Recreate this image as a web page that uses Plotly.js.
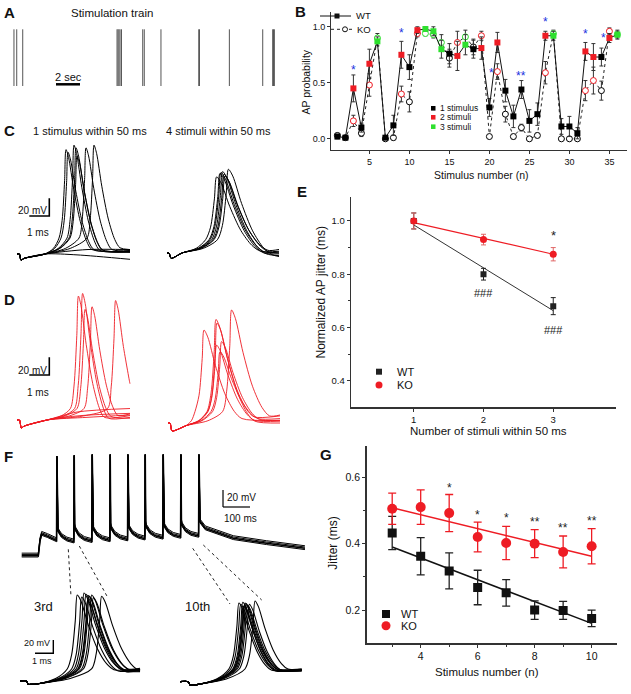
<!DOCTYPE html>
<html><head><meta charset="utf-8">
<script src="https://cdn.plot.ly/plotly-3.0.1.min.js"></script>
<style>html,body{margin:0;padding:0;background:#fff}#chart{width:631px;height:694px}</style>
</head><body><div id="chart"></div>
<script>
// ---------------- DATA ----------------
// Panel A: stimulation train times (s)
const stimTimes = [0.33,0.56,1.06,8.92,9.0,9.08,9.17,9.29,11.06,11.19,12.58,15.73,15.79,18.28,21.06,21.89,21.96,22.03];
// Panel B: AP probability per stimulus number
const stimN = [1,2,3,4,5,6,7,8,9,10,11,12,13,14,15,16,17,18,19,20,21,22,23,24,25,26,27,28,29,30,31,32,33,34,35,36];
const stimGroup = [1,1,2,1,2,3,1,1,2,1,2,3,3,3,1,2,3,1,2,1,2,1,1,1,1,1,2,3,1,1,1,2,2,1,2,3];
const wtProb = [0.02,0.01,0.45,0.10,0.67,0.87,0.01,0.12,0.75,0.64,0.97,0.98,0.96,0.80,0.76,0.74,0.84,0.80,0.81,0.28,0.86,0.43,0.20,0.44,0.16,0.22,0.92,0.92,0.11,0.11,0.05,0.78,0.73,0.73,0.90,0.93];
const wtProbErr = [0.02,0.01,0.12,0.04,0.13,0.04,0.01,0.09,0.12,0.11,0.03,0.02,0.04,0.08,0.09,0.13,0.09,0.08,0.10,0.08,0.09,0.10,0.10,0.08,0.10,0.10,0.04,0.04,0.07,0.09,0.05,0.08,0.12,0.08,0.04,0.04];
const koProb = [0.03,0.01,0.16,0.05,0.48,0.90,0.00,0.01,0.40,0.33,0.94,0.94,0.93,0.86,0.72,0.86,0.91,0.82,0.92,0.02,0.60,0.22,0.02,0.10,0.00,0.03,0.59,0.94,0.00,0.00,0.00,0.43,0.52,0.43,0.96,0.93];
const koProbErr = [0.02,0.01,0.05,0.03,0.10,0.04,0.01,0.02,0.07,0.09,0.03,0.02,0.03,0.07,0.08,0.10,0.06,0.07,0.04,0.01,0.07,0.07,0.02,0.03,0.01,0.02,0.10,0.03,0.01,0.01,0.01,0.09,0.12,0.085,0.03,0.03];
const starsB_x = [3,9,20.3,23.9,27,32,34.2];
const starsB_y = [0.64,0.97,0.61,0.59,1.07,0.96,0.93];
const starsB_t = ['*','*','*','**','*','*','*'];
const stimLegend = ['1 stimulus','2 stimuli','3 stimuli'];
// Panel E
const eX = [1,2,3];
const eWT = [1.0,0.80,0.68], eWTerr = [0.03,0.022,0.032];
const eKO = [1.0,0.93,0.875], eKOerr = [0.03,0.02,0.025];
const eFitX = [1,3], eWTfit = [0.985,0.663], eKOfit = [0.994,0.875];
const eMarks_x = [3,2,3], eMarks_y = [0.955,0.731,0.59], eMarks_t = ['*','###','###'];
// Panel G
const gX = [3,4,5,6,7,8,9,10];
const gWT = [0.432,0.362,0.318,0.268,0.252,0.200,0.199,0.175];
const gWTerr = [0.050,0.056,0.054,0.052,0.040,0.028,0.027,0.025];
const gKO = [0.505,0.510,0.492,0.420,0.402,0.400,0.375,0.392];
const gKOerr = [0.047,0.052,0.056,0.045,0.050,0.042,0.048,0.053];
const gFitX = [3,10], gWTfit = [0.39,0.16], gKOfit = [0.508,0.362];
const starsG_x = [5,6,7,8,9,10], starsG_y = [0.578,0.495,0.485,0.473,0.455,0.477], starsG_t = ['*','*','*','**','**','**'];
// Waveforms (ms, mV). AP rows: [peak time, peak V, after V, end V]
const RISE_T=[0,0.45,0.8,1], RISE_V=[0,0.2,0.65,1];
const FALL_T=[0,0.1,0.3,0.55,0.8,1], FALL_V=[1,0.92,0.6,0.28,0.08,0];
const cLeftPreT=[0,0.12,0.2,0.35,1.4], cLeftPreV=[-65,-65,-72,-70,-65];
const cLeftAP=[[2.45,53,-60,-62],[2.55,50,-60,-63],[2.85,58,-61,-62],[2.95,55,-60,-63],[3.0,46,-61,-62],[3.45,55,-60,-61],[3.85,58,-58,-60]];
const cLeftFlat=[[3.5,-60,5.65,-60],[3.0,-66,5.65,-71]];
const cRightPreT=[0,0.1,0.2,0.35,0.75], cRightPreV=[-65,-65,-71,-70,-65];
const cRightAP=[[2.48,21,-63,-63],[2.65,25,-65,-66],[2.78,27,-66,-68],[2.85,24,-62,-61],[2.9,22,-64,-65],[3.07,29.6,-67,-69],[2.7,26,-64,-64]];
const dLeftPreT=[0,0.12,0.22,0.35,1.5], dLeftPreV=[-65,-65,-74,-72,-65];
const dLeftAP=[[3.07,75,-62,-60],[3.28,78,-63,-62],[3.4,60,-61,-63],[3.75,63,-60,-58],[4.93,70,-60,-60]];
const dLeftFlat=[[3.0,-56,5.65,-52],[3.2,-60,5.65,-57.5],[3.5,-62,5.65,-59.3]];
const dRightPreT=[0,0.1,0.2,0.4,0.9], dRightPreV=[-65,-65,-74,-73,-68];
const dRightAP=[[1.8,40,-60,-62],[2.4,52,-58,-57],[2.43,23,-62,-63],[2.6,15.6,-60,-60],[2.68,27,-61,-62],[3.18,62.7,-57,-56],[2.45,48,-63,-65]];
const f3PreT=[0,0.35,0.45,0.6,1.0], f3PreV=[-65,-65,-70,-70,-69];
const f3AP=[[3.13,64,-48,-47],[3.37,61,-50,-49],[3.5,67,-47,-48],[3.61,65,-49,-48],[3.7,56,-48,-50],[3.79,62,-51,-49],[3.92,64,-47,-46],[4.01,60,-49,-48],[4.46,62,-48,-47],[3.74,63,-50,-51]];
const f10PreT=[0,0.45,0.55,0.7,1.0], f10PreV=[-66,-66,-71,-71,-70];
const f10AP=[[3.22,52,-49,-48],[3.32,50,-48,-49],[3.43,53,-50,-48],[3.51,48,-47,-47],[3.61,51,-49,-50],[3.68,49,-48,-48],[3.79,50,-50,-49],[4.1,55,-47,-48],[3.47,47,-49,-47],[3.55,52,-48,-50]];
// F top train
const fTopPreT=[0,61.5,67.8,74,95,123], fTopPreV=[-65,-65,-47,-39.5,-42,-46.5];
const fSpikeT=[129.6,193.7,260.4,327,392.6,456.7,523.3,589,655.7];
const fSpikePk=[52,53,54,54,54,54,54,54,54];
const fPreV=[-47,-48.5,-48,-47,-46,-45,-44,-43,-41.8];
const fPostV=[-35.6,-34,-33.5,-33,-32,-31,-30,-29,-25];
const fTailT=[680,783.7,907,1049], fTailV=[-33,-44.5,-50.4,-56.3];
const fTopOffsets=[0,-1.5,1.5,3];

// ---------------- HELPERS ----------------
const W=631,H=694;
const px=x=>x/W, py=y=>1-y/H;
const FONT='"Liberation Sans", Arial, Helvetica, sans-serif';
const RED='#ee1c24', GREEN='#2ee02e', BLUE='#2030e0';
const stimColors=['#000000',RED,GREEN];
const layout={width:W,height:H,margin:{l:0,r:0,t:0,b:0},paper_bgcolor:'#ffffff',plot_bgcolor:'rgba(0,0,0,0)',
  showlegend:false,font:{family:FONT,color:'#111',size:10},annotations:[],shapes:[]};
const data=[];
const ak=n=>n===1?'':String(n);
function hiddenAxes(n,xL,xR,xr,yT,yB,yr){
  layout['xaxis'+ak(n)]={domain:[px(xL),px(xR)],range:xr,visible:false,fixedrange:true,anchor:'y'+ak(n)};
  layout['yaxis'+ak(n)]={domain:[py(yB),py(yT)],range:yr,visible:false,fixedrange:true,anchor:'x'+ak(n)};
}
function traceAxes(n,xL,xR,t0px,pxMs,yT,yB,vRefPx,pxMv){
  hiddenAxes(n,xL,xR,[(xL-t0px)/pxMs,(xR-t0px)/pxMs],yT,yB,[-65-(yB-vRefPx)/pxMv,-65+(vRefPx-yT)/pxMv]);
}
function clip(t,v,tEnd){
  const T=[],V=[];
  for(let i=0;i<t.length;i++){
    if(t[i]<=tEnd){T.push(t[i]);V.push(v[i]);}
    else{const f=(tEnd-t[i-1])/(t[i]-t[i-1]);T.push(tEnd);V.push(v[i-1]+f*(v[i]-v[i-1]));break;}
  }
  return [T,V];
}
function apKnots(preT,preV,row,R,D,vTh,tEnd){
  const [tPk,vPk,vAft,vEnd]=row;
  const t=[...preT],v=[...preV];
  const t0=preT[preT.length-1],v0=preV[preV.length-1];
  const tTh=tPk-R;
  if(tTh>t0){t.push(t0+0.6*(tTh-t0));v.push(v0+0.35*(vTh-v0));t.push(tTh);v.push(vTh);}
  for(let i=1;i<RISE_T.length;i++){t.push(tTh+RISE_T[i]*R);v.push(vTh+RISE_V[i]*(vPk-vTh));}
  for(let i=1;i<FALL_T.length;i++){t.push(tPk+FALL_T[i]*D);v.push(vAft+FALL_V[i]*(vPk-vAft));}
  if(tPk+D<tEnd){t.push(tEnd);v.push(vEnd);}
  return clip(t,v,tEnd);
}
function addGroup(n,preT,preV,aps,flats,R,D,vTh,tEnd,color,width){
  const xa='x'+ak(n),ya='y'+ak(n);
  (flats||[]).forEach(f=>{
    data.push({x:[...preT,f[0],f[2]],y:[...preV,f[1],f[3]],xaxis:xa,yaxis:ya,mode:'lines',
      line:{color,width,shape:'spline',smoothing:0.8},hoverinfo:'skip'});
  });
  aps.forEach(r=>{
    const [T,V]=apKnots(preT,preV,r,R,D,vTh,tEnd);
    data.push({x:T,y:V,xaxis:xa,yaxis:ya,mode:'lines',line:{color,width,shape:'spline',smoothing:0.8},hoverinfo:'skip'});
  });
}
function ann(text,x,y,o){layout.annotations.push(Object.assign({text,x,y,xref:'paper',yref:'paper',showarrow:false,
  xanchor:'center',yanchor:'middle',font:{family:FONT,size:11,color:'#111'}},o||{}));}
function annPx(text,X,Y,o){ann(text,px(X),py(Y),o);}
function shp(o){layout.shapes.push(Object.assign({layer:'above'},o));}

// ---------------- PANEL A ----------------
// 12 px per second; stimulus bars span 0..1 (px 86 .. 29.3)
hiddenAxes(1,10,300,[0,(300-10)/12],20,95,[-(95-86)/56.7,1+(29.3-20)/56.7]);
{
  const xs=[],ys=[];
  stimTimes.forEach(t=>{xs.push(t,t,null);ys.push(0,1,null);});
  data.push({x:xs,y:ys,xaxis:'x',yaxis:'y',mode:'lines',line:{color:'#555',width:1},hoverinfo:'skip'});
  shp({type:'line',xref:'x',yref:'y',x0:(56-10)/12,x1:(80-10)/12,y0:(86-84.3)/56.7,y1:(86-84.3)/56.7,line:{color:'#000',width:2.5}});
  layout.annotations.push({text:'2 sec',x:(68.3-10)/12,y:(86-76.7)/56.7,xref:'x',yref:'y',showarrow:false,font:{family:FONT,size:11,color:'#111'}});
}
annPx('Stimulation train',111.7,12.7,{font:{family:FONT,size:11.5,color:'#111'}});

// ---------------- PANEL B ----------------
const axStyle={showline:true,linecolor:'#333',linewidth:1,ticks:'outside',ticklen:3,tickcolor:'#333',showgrid:false,zeroline:false,fixedrange:true};
layout.xaxis2=Object.assign({},axStyle,{domain:[px(331),px(627)],range:[0.2,37.2],anchor:'y2',tickvals:[5,10,15,20,25,30,35],tickfont:{family:FONT,size:9,color:'#111'}});
layout.yaxis2=Object.assign({},axStyle,{domain:[py(150),py(12)],range:[-0.1,1.132],anchor:'x2',tickvals:[0,0.5,1],ticktext:['0.0','0.5','1.0'],tickfont:{family:FONT,size:9,color:'#111'}});
const colB=stimGroup.map(g=>stimColors[g-1]);
data.push({x:stimN,y:koProb,xaxis:'x2',yaxis:'y2',mode:'lines+markers',line:{color:'#222',width:1,dash:'dot'},
  marker:{symbol:'circle',size:6,color:'#fff',line:{color:colB,width:1}},
  error_y:{type:'data',array:koProbErr,color:'#333',thickness:1,width:2},hoverinfo:'skip'});
data.push({x:stimN,y:wtProb,xaxis:'x2',yaxis:'y2',mode:'lines+markers',line:{color:'#111',width:1},
  marker:{symbol:'square',size:6,color:colB},
  error_y:{type:'data',array:wtProbErr,color:'#333',thickness:1,width:2},hoverinfo:'skip'});
starsB_x.forEach((x,i)=>layout.annotations.push({text:starsB_t[i],x,y:starsB_y[i],xref:'x2',yref:'y2',showarrow:false,
  font:{family:FONT,size:12,color:BLUE},yshift:-3}));
annPx('AP probability',305,82.5,{textangle:-90,font:{family:FONT,size:10.5,color:'#111'}});
annPx('Stimulus number (n)',481.7,175,{font:{family:FONT,size:10.5,color:'#111'}});
// legend WT / KO
shp({type:'line',xref:'paper',yref:'paper',x0:px(320),x1:px(351),y0:py(16),y1:py(16),line:{color:'#111',width:1}});
shp({type:'rect',xref:'paper',yref:'paper',x0:px(334.5),x1:px(339.5),y0:py(13.5),y1:py(18.5),fillcolor:'#111',line:{width:0}});
annPx('WT',354,16,{xanchor:'left',font:{family:FONT,size:9.5,color:'#111'}});
shp({type:'line',xref:'paper',yref:'paper',x0:px(331),x1:px(352),y0:py(29.3),y1:py(29.3),line:{color:'#222',width:1,dash:'dot'}});
shp({type:'circle',xref:'paper',yref:'paper',x0:px(342.5),x1:px(347.5),y0:py(26.8),y1:py(31.8),fillcolor:'#fff',line:{color:'#111',width:1}});
annPx('KO',355,29.3,{xanchor:'left',font:{family:FONT,size:9.5,color:'#111'}});
// stimulus legend
[108.3,117.3,126.7].forEach((Y,i)=>{
  shp({type:'rect',xref:'paper',yref:'paper',x0:px(431),x1:px(435.5),y0:py(Y-2.3),y1:py(Y+2.3),fillcolor:stimColors[i],line:{width:0}});
  annPx(stimLegend[i],438,Y,{xanchor:'left',font:{family:FONT,size:8.5,color:'#111'}});
});

// ---------------- PANELS C, D ----------------
traceAxes(3,10,135,17,20,135,270,254,0.885);
traceAxes(4,160,285,167,20,135,270,253,0.885);
traceAxes(5,10,135,17,20,280,440,420,0.885);
traceAxes(6,160,285,168,20,280,440,423,0.885);
addGroup(3,cLeftPreT,cLeftPreV,cLeftAP,cLeftFlat,0.35,1.3,-47,5.65,'#000',1);
addGroup(4,cRightPreT,cRightPreV,cRightAP,null,0.55,2.2,-50,5.6,'#000',1);
addGroup(5,dLeftPreT,dLeftPreV,dLeftAP,dLeftFlat,0.4,1.3,-52,5.65,RED,0.9);
addGroup(6,dRightPreT,dRightPreV,dRightAP,null,0.45,1.9,-52,5.6,RED,0.9);
function scaleBar(n,xR,yB,dx,dy,w,lab1,p1,lab2,p2,fs){
  const xa='x'+ak(n),ya='y'+ak(n);
  shp({type:'path',xref:xa,yref:ya,path:`M${xR-dx},${yB} L${xR},${yB} L${xR},${yB+dy}`,line:{color:'#000',width:w}});
  layout.annotations.push({text:lab1,x:p1[0],y:p1[1],xref:xa,yref:ya,showarrow:false,font:{family:FONT,size:fs,color:'#111'}});
  layout.annotations.push({text:lab2,x:p2[0],y:p2[1],xref:xa,yref:ya,showarrow:false,font:{family:FONT,size:fs,color:'#111'}});
}
scaleBar(3,1.615,-22.1,1,20,1.6,'20 mV',[0.765,-16.1],'1 ms',[1.025,-40.9],10);
scaleBar(5,1.615,-14.2,1,20,1.6,'20 mV',[0.765,-8.5],'1 ms',[1.065,-34.2],10);
annPx('1 stimulus within 50 ms',90,130.7);
annPx('4 stimuli within 50 ms',218.3,130.7);

// ---------------- PANEL E ----------------
layout.xaxis7=Object.assign({},axStyle,{domain:[px(351),px(616)],range:[0.1,3.9],anchor:'y7',tickvals:[1,2,3],linewidth:1.3,tickfont:{family:FONT,size:9.5,color:'#111'}});
layout.yaxis7=Object.assign({},axStyle,{domain:[py(407.3),py(197)],range:[0.3,1.09],anchor:'x7',tickvals:[0.4,0.6,0.8,1.0],ticktext:['0.4','0.6','0.8','1.0'],linewidth:1.3,
  minor:{tickvals:[0.5,0.7,0.9],ticklen:2,ticks:'outside',tickcolor:'#333'},tickfont:{family:FONT,size:9.5,color:'#111'}});
data.push({x:eFitX,y:eWTfit,xaxis:'x7',yaxis:'y7',mode:'lines',line:{color:'#333',width:1},hoverinfo:'skip'});
data.push({x:eFitX,y:eKOfit,xaxis:'x7',yaxis:'y7',mode:'lines',line:{color:RED,width:1.2},hoverinfo:'skip'});
data.push({x:eX,y:eWT,xaxis:'x7',yaxis:'y7',mode:'markers',marker:{symbol:'square',size:6,color:'#222'},
  error_y:{type:'data',array:eWTerr,color:'#222',thickness:1,width:2.5},hoverinfo:'skip'});
data.push({x:eX,y:eKO,xaxis:'x7',yaxis:'y7',mode:'markers',marker:{symbol:'circle',size:7,color:RED},
  error_y:{type:'data',array:eKOerr,color:'#e06666',thickness:1,width:2.5},hoverinfo:'skip'});
eMarks_x.forEach((x,i)=>layout.annotations.push({text:eMarks_t[i],x,y:eMarks_y[i],xref:'x7',yref:'y7',showarrow:false,
  font:{family:FONT,size:eMarks_t[i]==='*'?13:11,color:'#222'},yshift:eMarks_t[i]==='*'?-3:0}));
annPx('Normalized AP jitter (ms)',320,292.5,{textangle:-90,font:{family:FONT,size:12,color:'#111'}});
annPx('Number of stimuli within 50 ms',488,431,{font:{family:FONT,size:11.5,color:'#111'}});
shp({type:'rect',xref:'paper',yref:'paper',x0:px(376),x1:px(382),y0:py(368.7),y1:py(374.7),fillcolor:'#222',line:{width:0}});
shp({type:'circle',xref:'paper',yref:'paper',x0:px(375.5),x1:px(382.5),y0:py(381.5),y1:py(388.5),fillcolor:RED,line:{width:0}});
annPx('WT',395,371.7,{xanchor:'left',font:{family:FONT,size:11,color:'#111'}});
annPx('KO',395,385,{xanchor:'left',font:{family:FONT,size:11,color:'#111'}});

// ---------------- PANEL F ----------------
traceAxes(8,15,310,21.7,0.27,445,570,555.7,0.85);
{
  const t=[...fTopPreT],v=[...fTopPreV];
  fSpikeT.forEach((ts,i)=>{
    t.push(ts-0.5,ts+0.8,ts+2.5,ts+5);v.push(fPreV[i],fSpikePk[i],fPostV[i]+4,fPostV[i]);
    if(i<fSpikeT.length-1){
      const pn=fPreV[i+1],po=fPostV[i];
      t.push(ts+18,ts+38,fSpikeT[i+1]-0.5);v.push(po-0.5*(po-pn),po-0.82*(po-pn),pn);
    }
  });
  fTailT.forEach((tt,i)=>{t.push(tt);v.push(fTailV[i]);});
  fTopOffsets.forEach((o,k)=>{
    data.push({x:t,y:v.map(val=>val+o*(val<0?1:0)),xaxis:'x8',yaxis:'y8',mode:'lines',line:{color:'#000',width:k===0?1.6:1},hoverinfo:'skip'});
  });
}
scaleBar(8,745.6,-7.7,0,20,1.2,'20 mV',[814.8,3.2],'100 ms',[812,-21.5],10);
shp({type:'line',xref:'x8',yref:'y8',x0:745.6,x1:845.6,y0:-7.7,y1:-7.7,line:{color:'#000',width:1.2}});
traceAxes(9,15,145,20,18.3,580,694,681,0.667);
traceAxes(10,170,310,180,18.3,580,694,681,0.667);
addGroup(9,f3PreT,f3PreV,f3AP,null,0.55,2.0,-47,6.56,'#000',1.1);
addGroup(10,f10PreT,f10PreV,f10AP,null,0.55,1.8,-47,6.65,'#000',1.1);
scaleBar(9,1.82,-23.5,1,20,1.4,'20 mV',[0.91,-8.5],'1 ms',[1.19,-35],9);
annPx('3rd',43,606.7,{font:{family:FONT,size:13,color:'#111'}});
annPx('10th',197.5,606.7,{font:{family:FONT,size:13,color:'#111'}});
[[68.3,549.3,71,596.7],[79.3,546,107.3,596.7],[192.7,548.3,230,604],[203.3,545,261.7,600]].forEach(s=>
  shp({type:'line',xref:'paper',yref:'paper',x0:px(s[0]),y0:py(s[1]),x1:px(s[2]),y1:py(s[3]),line:{color:'#222',width:1,dash:'dot'}}));

// ---------------- PANEL G ----------------
layout.xaxis11=Object.assign({},axStyle,{domain:[px(366.7),px(616.7)],range:[2.105,10.88],anchor:'y11',tickvals:[4,6,8,10],linewidth:1.5,
  minor:{tickvals:[3,5,7,9],ticklen:2,ticks:'outside',tickcolor:'#333'},tickfont:{family:FONT,size:10.5,color:'#111'}});
layout.yaxis11=Object.assign({},axStyle,{domain:[py(643.3),py(446)],range:[0.1,0.694],anchor:'x11',tickvals:[0.2,0.4,0.6],linewidth:1.5,
  minor:{tickvals:[0.3,0.5],ticklen:2,ticks:'outside',tickcolor:'#333'},tickfont:{family:FONT,size:10.5,color:'#111'}});
data.push({x:gFitX,y:gWTfit,xaxis:'x11',yaxis:'y11',mode:'lines',line:{color:'#111',width:1.5},hoverinfo:'skip'});
data.push({x:gFitX,y:gKOfit,xaxis:'x11',yaxis:'y11',mode:'lines',line:{color:RED,width:1.5},hoverinfo:'skip'});
data.push({x:gX,y:gWT,xaxis:'x11',yaxis:'y11',mode:'markers',marker:{symbol:'square',size:9,color:'#111'},
  error_y:{type:'data',array:gWTerr,color:'#222',thickness:1.3,width:4},hoverinfo:'skip'});
data.push({x:gX,y:gKO,xaxis:'x11',yaxis:'y11',mode:'markers',marker:{symbol:'circle',size:10,color:RED},
  error_y:{type:'data',array:gKOerr,color:RED,thickness:1.3,width:4},hoverinfo:'skip'});
starsG_x.forEach((x,i)=>layout.annotations.push({text:starsG_t[i],x,y:starsG_y[i],xref:'x11',yref:'y11',showarrow:false,
  font:{family:FONT,size:12,color:'#222'},yshift:-3}));
annPx('Jitter (ms)',332.7,543,{textangle:-90,font:{family:FONT,size:12,color:'#111'}});
annPx('Stimulus number (n)',486.7,671.7,{font:{family:FONT,size:11.5,color:'#111'}});
shp({type:'rect',xref:'paper',yref:'paper',x0:px(382),x1:px(390),y0:py(610),y1:py(618),fillcolor:'#111',line:{width:0}});
shp({type:'circle',xref:'paper',yref:'paper',x0:px(381.5),x1:px(390.5),y0:py(621.2),y1:py(630.2),fillcolor:RED,line:{width:0}});
annPx('WT',399,614,{xanchor:'left',font:{family:FONT,size:11,color:'#111'}});
annPx('KO',399,625.7,{xanchor:'left',font:{family:FONT,size:11,color:'#111'}});

// ---------------- PANEL LETTERS ----------------
[['A',9,12.7],['B',300,12],['C',9.5,130.7],['D',9,299],['E',302,192],['F',8.5,456.7],['G',326,455]].forEach(l=>
  annPx('<b>'+l[0]+'</b>',l[1],l[2],{font:{family:FONT,size:15,color:'#111'}}));

Plotly.newPlot('chart',data,layout,{staticPlot:true,displayModeBar:false});
</script></body></html>
